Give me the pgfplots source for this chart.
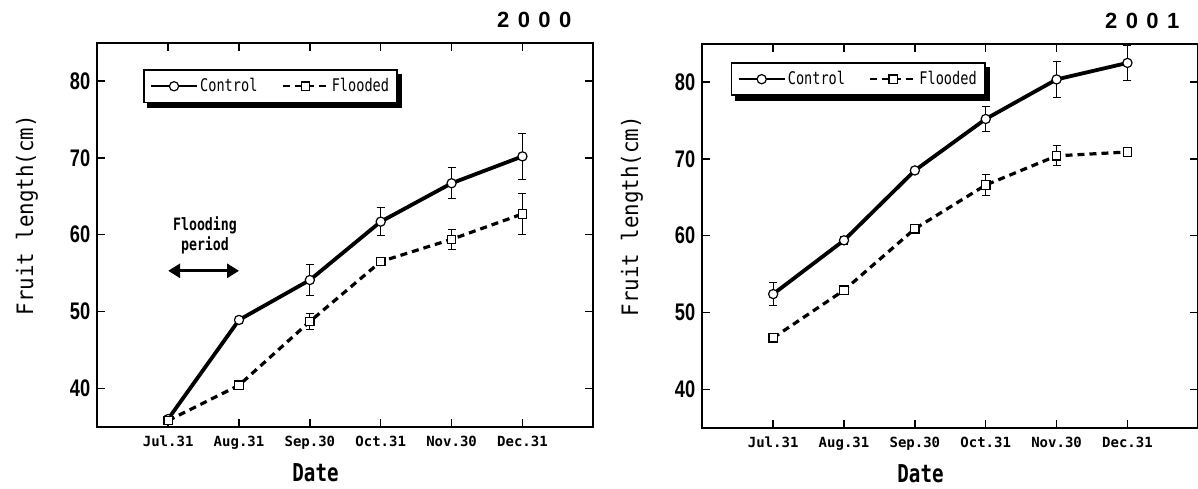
\documentclass[border=0pt]{standalone}
\usepackage{fontspec}
\setmainfont{DejaVu Sans Mono}
\newfontfamily\gfont[FakeStretch=0.78]{DejaVu Sans Mono}
\newfontfamily\yfont[FakeStretch=0.92]{DejaVu Sans Mono}
\newfontfamily\nfont[FakeStretch=0.76]{Liberation Sans}
\newfontfamily\tfont{Liberation Sans}
\usepackage{pgfplots}
\pgfplotsset{compat=1.18}
\usetikzlibrary{arrows.meta,backgrounds}

\pgfplotsset{
  legend image code/.code={\draw[mark repeat=2,mark phase=2,#1,line width=1.2pt] plot coordinates {(0pt,0pt) (11.5pt,0pt) (23pt,0pt)};},
  fruit/.style={
    scale only axis, width=248pt, height=192pt,
    xmin=0, xmax=7, ymin=35, ymax=85,
    xtick={1,...,6}, xticklabels={Jul.31,Aug.31,Sep.30,Oct.31,Nov.30,Dec.31},
    ytick={40,50,...,80}, yticklabels={40,50,60,70,80},
    tick align=inside, major tick length=4pt,
    every tick/.style={black, line width=0.7pt},
    axis line style={line width=0.9pt},
    xticklabel style={font=\bfseries\fontsize{7}{8}\selectfont, yshift=-1pt},
    yticklabel style={font=\nfont\bfseries\fontsize{12}{14}\selectfont},
    xlabel={Date}, ylabel={Fruit length(cm)},
    xlabel style={font=\gfont\bfseries\fontsize{12.3}{14}\selectfont,
      at={(axis description cs:0.44,0)}, anchor=center, yshift=-23pt},
    ylabel style={font=\yfont\fontsize{11.3}{13}\selectfont, anchor=center},
    title style={font=\tfont\bfseries\fontsize{11}{12}\selectfont, anchor=center, yshift=5.6pt},
    clip=false,
    legend columns=2,
    legend style={font=\gfont\fontsize{8.7}{10}\selectfont, draw=black, line width=0.9pt,
      fill=white, anchor=north west, inner xsep=3pt, inner ysep=2pt,
      nodes={inner xsep=1pt},
      /tikz/every even column/.append style={column sep=11pt}},
  },
  ctrl/.style={black, solid, line width=1.9pt, mark=*, mark size=2.3pt,
    mark options={solid, fill=white, draw=black, line width=0.6pt},
    error bars/.cd, y dir=both, y explicit,
    error bar style={line width=0.5pt, solid},
    error mark options={rotate=90, mark size=2pt, line width=0.5pt}},
  flood/.style={black, line width=1.6pt, dash pattern=on 3.5pt off 2.5pt, mark=square*, mark size=2.1pt,
    mark options={solid, fill=white, draw=black, line width=0.6pt},
    error bars/.cd, y dir=both, y explicit,
    error bar style={line width=0.5pt, solid},
    error mark options={rotate=90, mark size=2pt, line width=0.5pt}},
}

\begin{document}
\begin{tikzpicture}
\path[use as bounding box] (0,0) rectangle (599pt,244pt);

% 2000
\begin{axis}[fruit, at={(48.65pt,30.65pt)}, anchor=south west,
  title={2\hspace{4.2pt}0\hspace{4.2pt}0\hspace{4.2pt}0},
  title style={at={(axis description cs:0.881,1)}},
  ylabel style={at={(axis description cs:-0.142,0.551)}},
  legend style={at={(axis description cs:0.092,0.931)}, name=legA},
]
\addplot[ctrl] coordinates {
  (1,36.0) +- (0,0.3) (2,48.9) +- (0,0.3) (3,54.1) +- (0,2.0)
  (4,61.7) +- (0,1.8) (5,66.7) +- (0,2.0) (6,70.2) +- (0,3.0)
};
\addlegendentry{Control}
\addplot[flood] coordinates {
  (1,35.8) +- (0,0.3) (2,40.4) +- (0,0.3) (3,48.7) +- (0,1.0)
  (4,56.5) +- (0,0.4) (5,59.4) +- (0,1.3) (6,62.7) +- (0,2.7)
};
\addlegendentry{Flooded}
\draw[line width=1.4pt, {Triangle[length=6pt,width=7pt]}-{Triangle[length=6pt,width=7pt]}]
  (axis cs:1,55.3) -- (axis cs:2,55.3);
\node[align=center, inner sep=0pt, font=\gfont\bfseries\fontsize{8.5}{8}\selectfont]
  at (axis cs:1.52,59.9) {Flooding\\period};
\end{axis}

% 2001
\begin{axis}[fruit, at={(351.15pt,30.15pt)}, anchor=south west,
  title={2\hspace{4.2pt}0\hspace{4.2pt}0\hspace{4.2pt}1},
  title style={at={(axis description cs:0.887,1)}},
  ylabel style={at={(axis description cs:-0.142,0.551)}},
  legend style={at={(axis description cs:0.057,0.952)}, name=legB},
]
\addplot[ctrl] coordinates {
  (1,52.4) +- (0,1.5) (2,59.4) +- (0,0.5) (3,68.5) +- (0,0.4)
  (4,75.2) +- (0,1.6) (5,80.35) +- (0,2.3) (6,82.5) +- (0,2.3)
};
\addlegendentry{Control}
\addplot[flood] coordinates {
  (1,46.7) +- (0,0.2) (2,52.9) +- (0,0.3) (3,60.9) +- (0,0.3)
  (4,66.6) +- (0,1.4) (5,70.4) +- (0,1.3) (6,70.9) +- (0,0.3)
};
\addlegendentry{Flooded}
\end{axis}

% legend shadows
\begin{pgfonlayer}{background}
\fill[black] ([shift={(2.2pt,-2.2pt)}]legA.south west) rectangle ([shift={(2.2pt,-2.2pt)}]legA.north east);
\fill[black] ([shift={(2.2pt,-2.2pt)}]legB.south west) rectangle ([shift={(2.2pt,-2.2pt)}]legB.north east);
\end{pgfonlayer}
\end{tikzpicture}
\end{document}
